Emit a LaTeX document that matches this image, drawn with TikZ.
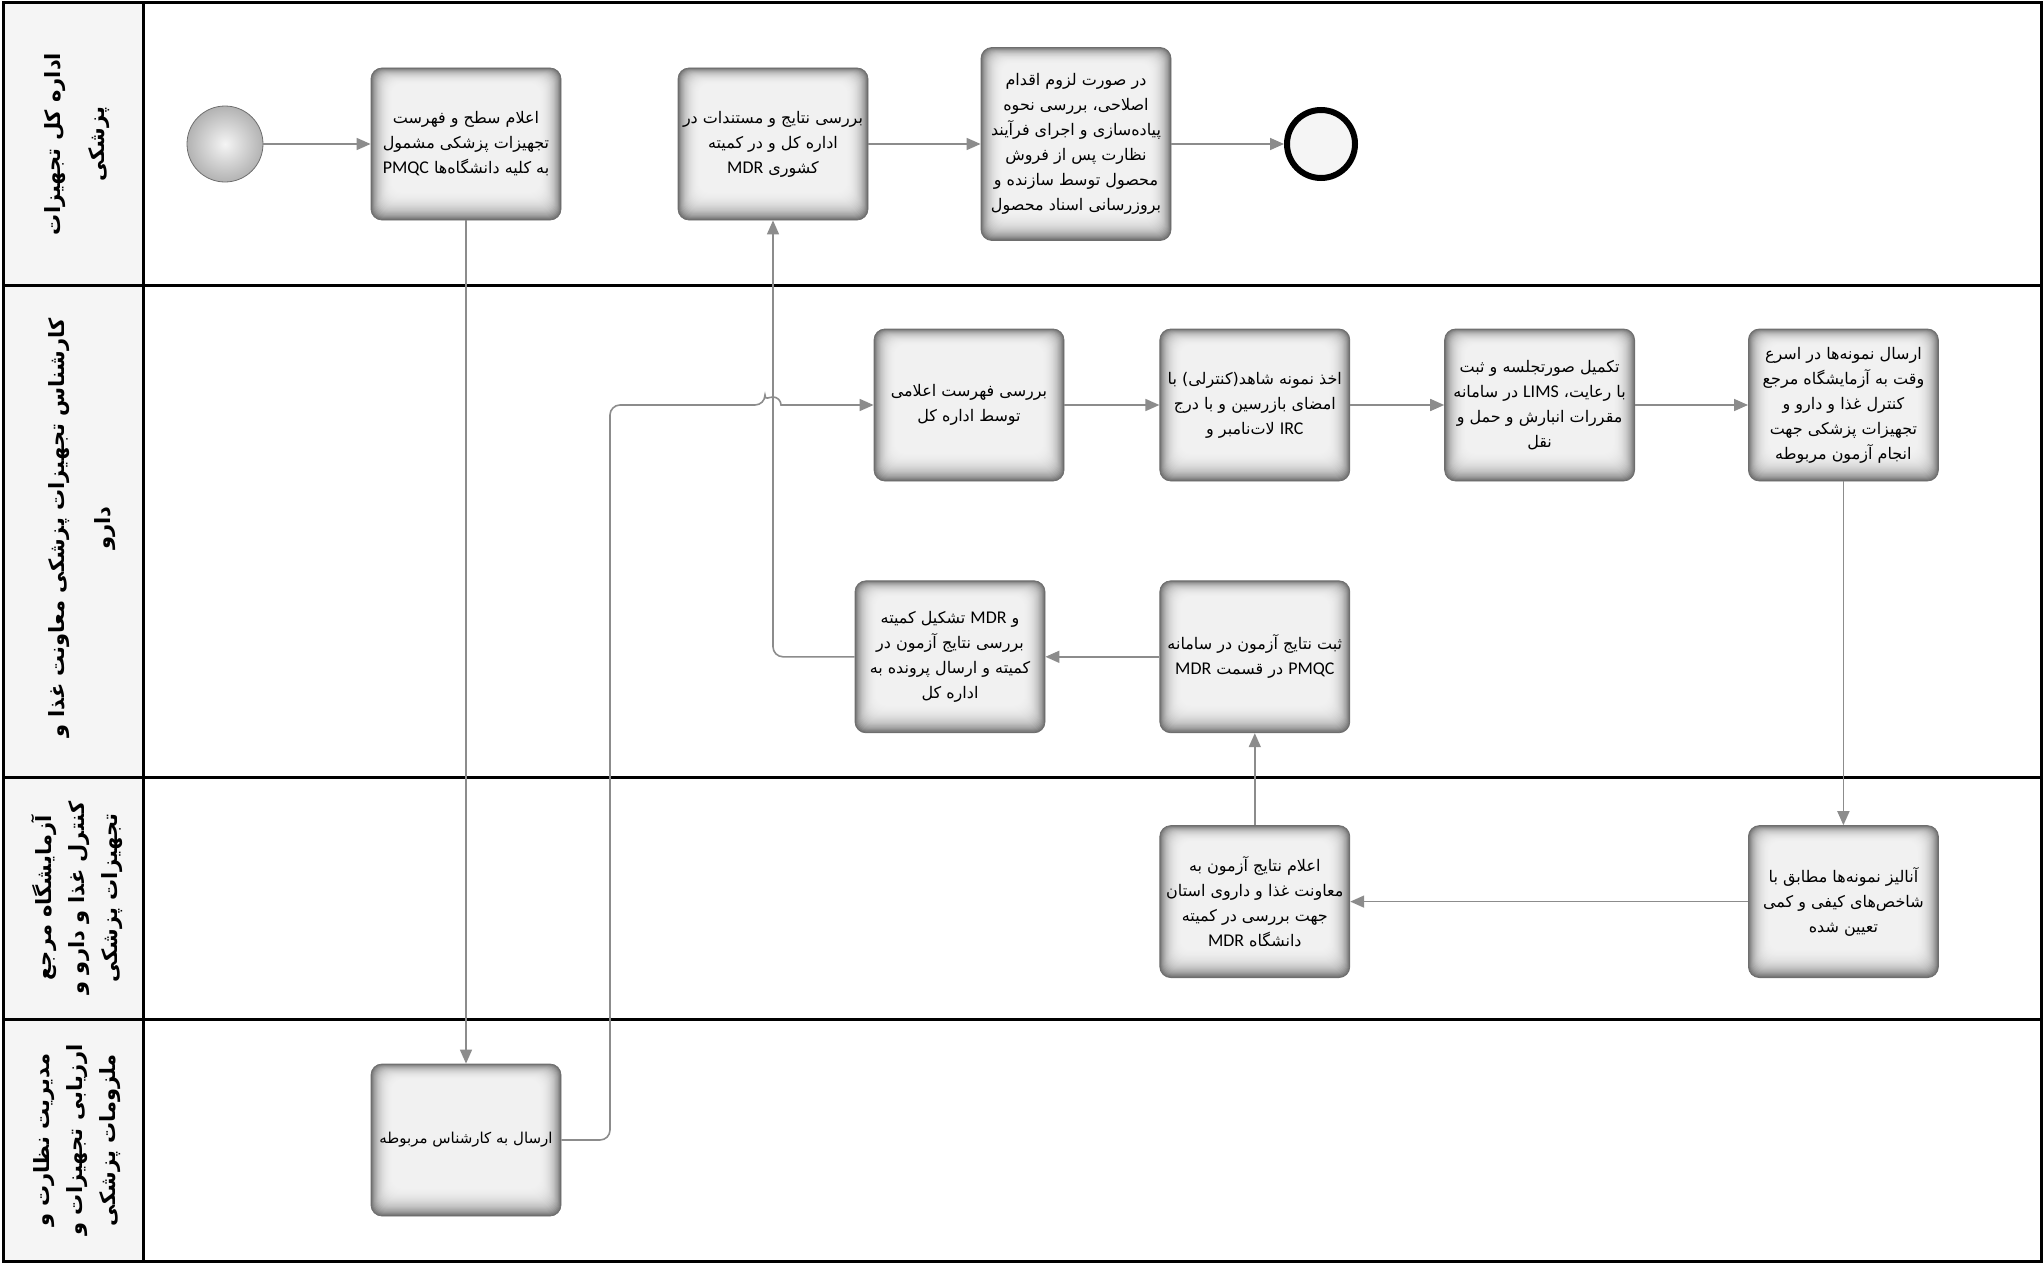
\documentclass[tikz,border=0pt]{standalone}
\usepackage{fontspec}
\setmainfont{Carlito}
\newfontfamily\fafont[Script=Arabic]{DejaVu Sans}
\newfontfamily\latfont[Scale=1.12]{Carlito}
\TeXXeTstate=1
\newcommand{\fa}[1]{\beginR#1\endR}
\newcommand{\lat}[1]{{\latfont #1}}
\usepackage{xcolor}
\definecolor{mdrhead}{HTML}{F5F5F5}
\definecolor{mdrline}{HTML}{8C8C8C}
\definecolor{mdrrim}{HTML}{6E6E6E}
\usepackage{tikz}
\usetikzlibrary{arrows.meta,positioning}
\tikzset{
  mdrtask/.style={draw=mdrrim,line width=0.8pt,rounded corners=11pt,fill=mdrrim,minimum width=190pt,minimum height=152pt,inner sep=0pt,align=center,font=\fafont\fontsize{16}{25}\selectfont,
    path picture={\foreach \k in {1,...,26}{\fill[white,opacity=0.1,rounded corners=10pt] ([shift={(\k*0.8pt,\k*1.05pt)}]path picture bounding box.south west) rectangle ([shift={(-\k*0.8pt,-\k*0.6pt)}]path picture bounding box.north east);}}},
  mdrflow/.style={draw=mdrline,line width=1.6pt,-{Triangle[length=14pt,width=12pt]}},
  mdrlane/.style={rotate=90,align=center,font=\fafont\bfseries\fontsize{21}{33}\selectfont},
  mdrframe/.style={draw=black,line width=3pt},
}
\begin{document}
\begin{tikzpicture}[x=1pt,y=-1pt,node distance=95pt]
\useasboundingbox (0,0) rectangle (2044,1263);
\fill[mdrhead] (3,3) rectangle (143,1261);
\draw[mdrframe] (3,285) -- (2041,285) (3,777) -- (2041,777) (3,1019) -- (2041,1019);
\draw[mdrframe] (143,3) -- (143,1261);
\draw[mdrframe] (3,3) rectangle (2041,1261);
\node[mdrlane,font=\fafont\bfseries\fontsize{21}{44}\selectfont] (hdrA) at (77,144) {\fa{اداره کل تجهیزات}\\\fa{پزشکی}};
\node[mdrlane,font=\fafont\bfseries\fontsize{21}{46}\selectfont] (hdrB) at (82,528) {\fa{کارشناس تجهیزات پزشکی معاونت غذا و}\\\fa{دارو}};
\node[mdrlane] (hdrC) at (77,898) {\fa{آزمایشگاه مرجع}\\\fa{کنترل غذا و دارو و}\\\fa{تجهیزات پزشکی}};
\node[mdrlane] (hdrD) at (77,1140) {\fa{مدیریت نظارت و}\\\fa{ارزیابی تجهیزات و}\\\fa{ملزومات پزشکی}};
\node[circle,draw=mdrrim,line width=0.8pt,inner color=gray!8,outer color=gray!60,minimum size=76pt] (start) at (225,144) {};
\node[mdrtask] (announce) at (466,144) {\fa{اعلام سطح و فهرست}\\\fa{تجهیزات پزشکی مشمول}\\\lat{PMQC} \fa{به کلیه دانشگاه‌ها}};
\node[mdrtask] (review) at (773,144) {\fa{بررسی نتایج و مستندات در}\\\fa{اداره کل و در کمیته}\\\lat{MDR} \fa{کشوری}};
\node[mdrtask,minimum height=193pt] (postmkt) at (1076,144) {\fa{در صورت لزوم اقدام}\\\fa{اصلاحی، بررسی نحوه}\\\fa{پیاده‌سازی و اجرای فرآیند}\\\fa{نظارت پس از فروش}\\\fa{محصول توسط سازنده و}\\\fa{بروزرسانی اسناد محصول}};
\node[circle,draw=black,line width=6pt,fill=mdrhead,minimum size=68pt] (finish) at (1321,144) {};
\node[mdrtask] (checklist) at (969,405) {\fa{بررسی فهرست اعلامی}\\\fa{توسط اداره کل}};
\node[mdrtask,right=of checklist] (sample) {\fa{اخذ نمونه شاهد(کنترلی) با}\\\fa{امضای بازرسین و با درج}\\\fa{لات‌نامبر و} \lat{IRC}};
\node[mdrtask,right=94pt of sample] (minutes) {\fa{تکمیل صورتجلسه و ثبت}\\\fa{در سامانه} \lat{LIMS} \fa{با رعایت،}\\\fa{مقررات انبارش و حمل و}\\\fa{نقل}};
\node[mdrtask,right=113pt of minutes] (dispatch) {\fa{ارسال نمونه‌ها در اسرع}\\\fa{وقت به آزمایشگاه مرجع}\\\fa{کنترل غذا و دارو و}\\\fa{تجهیزات پزشکی جهت}\\\fa{انجام آزمون مربوطه}};
\node[mdrtask,below=99pt of sample] (record) {\fa{ثبت نتایج آزمون در سامانه}\\\lat{MDR} \fa{در قسمت} \lat{PMQC}};
\node[mdrtask,left=114pt of record] (committee) {\fa{تشکیل کمیته} \lat{MDR} \fa{و}\\\fa{بررسی نتایج آزمون در}\\\fa{کمیته و ارسال پرونده به}\\\fa{اداره کل}};
\node[mdrtask,below=92pt of record] (results) {\fa{اعلام نتایج آزمون به}\\\fa{معاونت غذا و داروی استان}\\\fa{جهت بررسی در کمیته}\\\lat{MDR} \fa{دانشگاه}};
\node[mdrtask] (analysis) at (dispatch |- results) {\fa{آنالیز نمونه‌ها مطابق با}\\\fa{شاخص‌های کیفی و کمی}\\\fa{تعیین شده}};
\node[mdrtask,font=\fafont\fontsize{15}{25}\selectfont] (forward) at (466,1140) {\fa{ارسال به کارشناس مربوطه}};
\coordinate (hop) at (review.south |- checklist.west);
\draw[mdrflow] (start) -- (announce);
\draw[mdrflow] (review) -- (postmkt);
\draw[mdrflow] (postmkt) -- (finish);
\draw[mdrflow] (announce) -- (forward);
\draw[mdrflow] (forward.east) [rounded corners=10pt] -| (610,405) -- ([xshift=-8pt]hop) [sharp corners] arc[start angle=180,end angle=360,radius=8] -- (checklist.west);
\draw[mdrflow] (checklist) -- (sample);
\draw[mdrflow] (sample) -- (minutes);
\draw[mdrflow] (minutes) -- (dispatch);
\draw[mdrflow] (dispatch) -- (analysis);
\draw[mdrflow] (analysis) -- (results);
\draw[mdrflow] (results) -- (record);
\draw[mdrflow] (record) -- (committee);
\draw[mdrflow,rounded corners=10pt] (committee.west) -| (review.south);
\end{tikzpicture}
\end{document}
